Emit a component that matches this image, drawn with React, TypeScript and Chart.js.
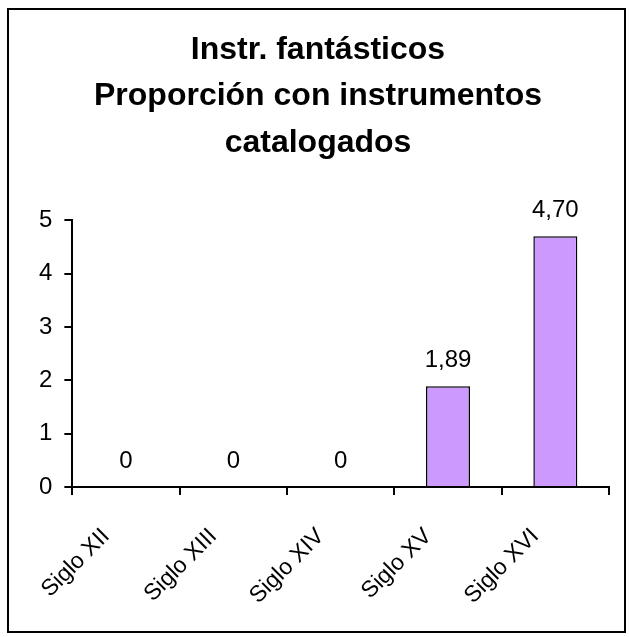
import { useEffect, useRef } from "react";
import { Chart, registerables } from "chart.js";
Chart.register(...registerables);

const categories = ["Siglo XII", "Siglo XIII", "Siglo XIV", "Siglo XV", "Siglo XVI"];
const values = [0, 0, 0, 1.89, 4.7];
const valueLabels = ["0", "0", "0", "1,89", "4,70"];
const titleLines = ["Instr. fantásticos", "Proporción con instrumentos", "catalogados"];
const yMin = 0;
const yMax = 5;

const FONT = "Arial, 'Liberation Sans', sans-serif";

const dataLabelPlugin = {
  id: "dataLabels",
  afterDatasetsDraw(chart: any) {
    const ctx = chart.ctx;
    const meta = chart.getDatasetMeta(0);
    ctx.save();
    ctx.font = `24px ${FONT}`;
    ctx.fillStyle = "#000";
    ctx.textAlign = "center";
    ctx.textBaseline = "middle";
    meta.data.forEach((el: any, i: number) => {
      ctx.fillText(valueLabels[i], el.x, el.y - 26);
    });
    ctx.restore();
  },
};

export default function App() {
  const ref = useRef<HTMLCanvasElement>(null);
  useEffect(() => {
    if (!ref.current) return;
    const chart = new Chart(ref.current, {
      type: "bar",
      data: {
        labels: categories,
        datasets: [
          {
            data: values,
            backgroundColor: "#CC99FF",
            borderColor: "#000",
            borderWidth: 1.5,
            categoryPercentage: 1,
            barPercentage: 0.41,
          },
        ],
      },
      options: {
        animation: false,
        responsive: true,
        maintainAspectRatio: false,
        layout: { padding: { left: 18, right: 15, top: 0, bottom: 3 } },
        plugins: {
          legend: { display: false },
          tooltip: { enabled: false },
          title: {
            display: true,
            text: titleLines,
            color: "#000",
            font: { family: FONT, size: 32, weight: "bold", lineHeight: 1.45 },
            padding: { top: 17, bottom: 54 },
          },
        },
        scales: {
          x: {
            border: { color: "#000", width: 2 },
            grid: { display: true, drawOnChartArea: false, drawTicks: true, tickLength: 8, color: "#000", lineWidth: 2, offset: true },
            ticks: {
              color: "#000",
              font: { family: FONT, size: 23 },
              minRotation: 45,
              maxRotation: 45,
              padding: 28,
              labelOffset: -20,
            },
            afterFit: (scale: any) => {
              scale.height = 141;
            },
          },
          y: {
            min: yMin,
            max: yMax,
            border: { color: "#000", width: 2 },
            grid: { display: true, drawOnChartArea: false, drawTicks: true, tickLength: 8, color: "#000", lineWidth: 2 },
            ticks: {
              color: "#000",
              font: { family: FONT, size: 24 },
              stepSize: 1,
              padding: 12,
            },
          },
        },
      },
      plugins: [dataLabelPlugin],
    });
    return () => chart.destroy();
  }, []);
  return (
    <div
      style={{
        position: "absolute",
        left: 7,
        top: 8,
        width: 619,
        height: 625,
        border: "2px solid #000",
        boxSizing: "border-box",
        background: "#fff",
      }}
    >
      <div style={{ position: "relative", width: 615, height: 621 }}>
        <canvas ref={ref} />
      </div>
    </div>
  );
}
